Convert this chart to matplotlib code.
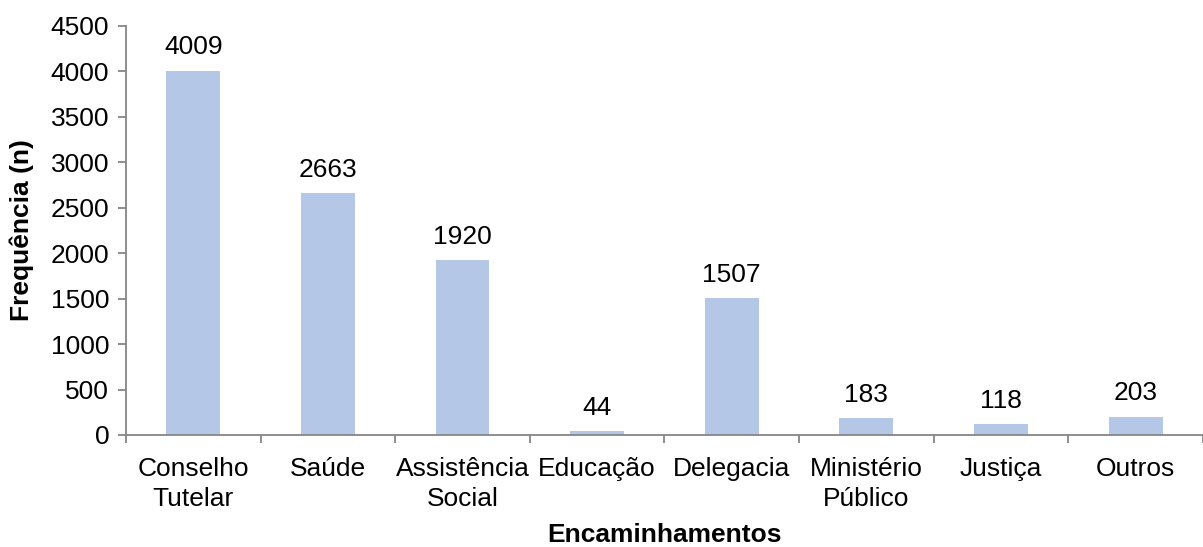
import matplotlib.pyplot as plt
import numpy as np

plt.rcParams['font.family'] = ['Liberation Sans', 'DejaVu Sans']

categories = ["Conselho\nTutelar", "Saúde", "Assistência\nSocial", "Educação",
              "Delegacia", "Ministério\nPúblico", "Justiça", "Outros"]
values = [4009, 2663, 1920, 44, 1507, 183, 118, 203]
y_ticks = [0, 500, 1000, 1500, 2000, 2500, 3000, 3500, 4000, 4500]

AXIS_GREY = "#868686"
BAR_BLUE = "#B4C7E7"
FS = 19

fig = plt.figure(figsize=(12.03, 5.47), dpi=100)
ax = fig.add_axes([0.1047, 0.2048, 0.8953, 0.7477])

x = np.arange(len(categories))
ax.bar(x, values, width=0.4, color=BAR_BLUE)

for xi, v in zip(x, values):
    ax.annotate(str(v), (xi, v), xytext=(0, 8), textcoords="offset points",
                ha="center", va="bottom", fontsize=FS)

ax.set_xlim(-0.5, len(categories) - 0.5)
ax.set_ylim(0, 4500)
ax.set_yticks(y_ticks)

# category labels in the middle, tick marks between categories
ax.set_xticks(x)
ax.set_xticklabels(categories, fontsize=FS, linespacing=1.3)
ax.set_xticks(np.arange(-0.5, len(categories)), minor=True)
ax.tick_params(axis="x", which="major", length=0, pad=16)
ax.tick_params(axis="x", which="minor", length=6, width=1.3, color=AXIS_GREY)
ax.tick_params(axis="y", length=6, width=1.3, color=AXIS_GREY, labelsize=FS, pad=6)

for side in ["top", "right"]:
    ax.spines[side].set_visible(False)
for side in ["left", "bottom"]:
    ax.spines[side].set_color(AXIS_GREY)
    ax.spines[side].set_linewidth(1.3)

ax.set_ylabel("Frequência (n)", fontsize=FS, fontweight="bold", labelpad=12)
ax.set_xlabel("Encaminhamentos", fontsize=FS, fontweight="bold", va="center")
ax.xaxis.set_label_coords(0.5, -0.245)

fig.savefig("out.png", dpi=100)
